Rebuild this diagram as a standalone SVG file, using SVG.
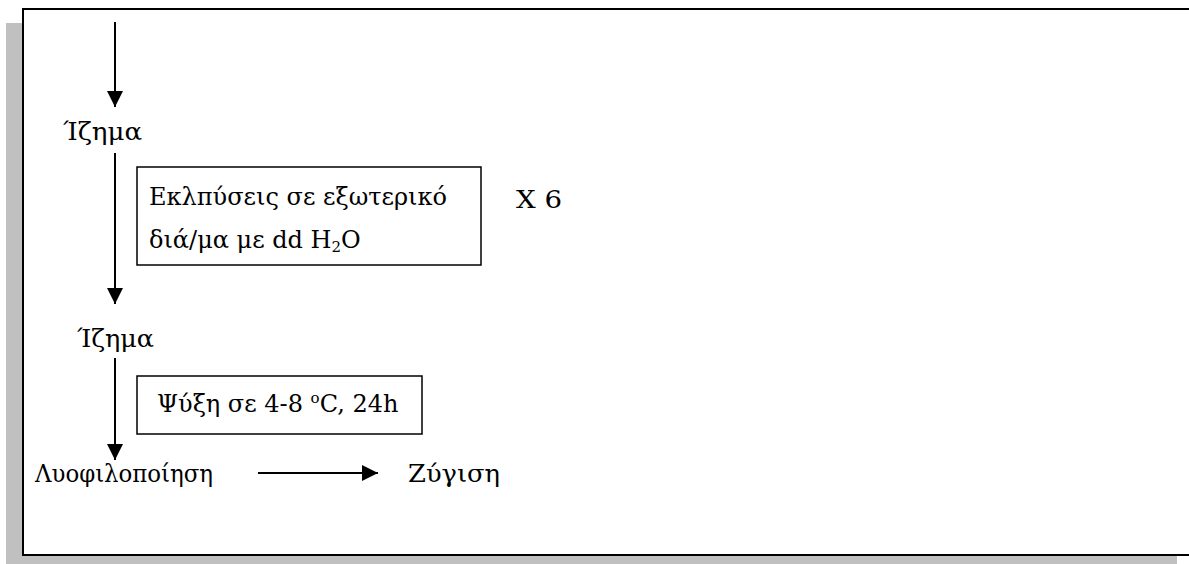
<svg xmlns="http://www.w3.org/2000/svg" width="1189" height="564" viewBox="0 0 1189 564">
<style>
text{font-family:"DejaVu Serif","Liberation Serif",serif;font-size:24px;fill:#000}
.box{fill:#fff;stroke:#000;stroke-width:1.5}
.ln{stroke:#000;stroke-width:2;fill:none}
</style>
<defs>
<marker id="ah" markerWidth="16" markerHeight="16" refX="16" refY="8" orient="auto" markerUnits="userSpaceOnUse" viewBox="0 0 16 16">
<path d="M0,0 L16,8 L0,16 Z" fill="#000"/>
</marker>
</defs>
<rect x="6" y="23" width="1183" height="541" fill="#c0c0c0"/>
<rect x="1177" y="555" width="12" height="9" fill="#fff"/>
<path d="M1189,9 H23 V555 H1189" fill="#fff" stroke="#000" stroke-width="2"/>
<g id="connectors">
<line class="ln" x1="115" y1="22" x2="115" y2="107" marker-end="url(#ah)"/>
<line class="ln" x1="115" y1="153" x2="115" y2="304" marker-end="url(#ah)"/>
<line class="ln" x1="115" y1="358" x2="115" y2="460" marker-end="url(#ah)"/>
<line class="ln" x1="258" y1="473" x2="378" y2="473" marker-end="url(#ah)"/>
</g>
<g id="n1"><text x="63" y="140" textLength="79" lengthAdjust="spacingAndGlyphs">Ίζημα</text></g>
<g id="n2">
<rect class="box" x="137" y="167" width="344" height="98"/>
<text x="149" y="205" textLength="298" lengthAdjust="spacingAndGlyphs">Εκλπύσεις σε εξωτερικό</text>
<text x="149" y="248">διά/μα με dd H<tspan font-size="15" dy="4">2</tspan><tspan dy="-4">O</tspan></text>
</g>
<g id="n3"><text x="516" y="208" textLength="46" lengthAdjust="spacingAndGlyphs">X 6</text></g>
<g id="n4"><text x="77" y="347" textLength="77" lengthAdjust="spacingAndGlyphs">Ίζημα</text></g>
<g id="n5">
<rect class="box" x="137" y="376" width="285" height="58"/>
<text x="157" y="412">Ψύξη σε 4-8 <tspan font-size="15" dy="-9">o</tspan><tspan dy="9">C, 24h</tspan></text>
</g>
<g id="n6"><text x="35" y="482" textLength="178" lengthAdjust="spacingAndGlyphs">Λυοφιλοποίηση</text></g>
<g id="n7"><text x="408" y="482" textLength="92" lengthAdjust="spacingAndGlyphs">Ζύγιση</text></g>
</svg>
